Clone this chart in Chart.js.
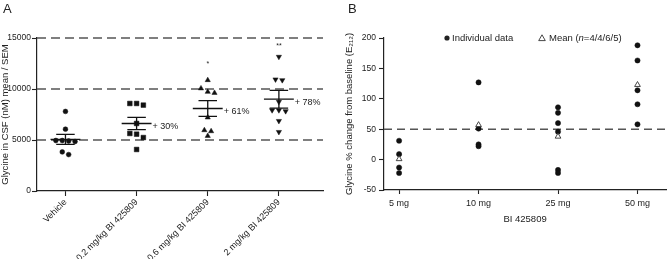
<!DOCTYPE html>
<html>
<head>
<meta charset="utf-8">
<script src="https://cdn.jsdelivr.net/npm/chart.js@4.4.0/dist/chart.umd.min.js"></script>
<style>
  body { margin: 0; background: #fff; }
  #wrap { position: relative; width: 671px; height: 259px; }
  #chartA { position: absolute; left: 0; top: 0; }
  #chartB { position: absolute; left: 335px; top: 0; }
</style>
</head>
<body>
<div id="wrap">
  <canvas id="chartA" width="335" height="259"></canvas>
  <canvas id="chartB" width="336" height="259"></canvas>
</div>
<script>
// panel A - glycine in CSF
const groupsA = ['Vehicle', '0.2 mg/kg BI 425809', '0.6 mg/kg BI 425809', '2 mg/kg BI 425809']
const vehicle = [7800, 6060, 4950, 4900, 4850, 4950, 3830, 3570]
const dose02 = [8580, 8420, 8580, 6620, 5640, 5570, 5240, 4070]
const dose06 = [10870, 10060, 9620, 9720, 7210, 5960, 5400, 5860]
const dose2 = [13160, 10870, 10940, 8740, 7920, 7830, 7920, 6870, 5790]
const meansA = [5070, 6620, 8090, 9000]
const semA = [490, 600, 780, 870]
const pctLabels = ['', '+ 30%', '+ 61%', '+ 78%']
const sigMarks = ['', '', '*', '**']
const sigLevels = [null, null, 12600, 14380]
const refLinesA = [5000, 10000, 15000]
const yTicksA = [0, 5000, 10000, 15000]

// panel B - % change from baseline
const dosesB = ['5 mg', '10 mg', '25 mg', '50 mg']
const indiv5 = [31, 9, -13, -22]
const indiv10 = [127, 51, 25, 22]
const indiv25 = [86, 77, 60, 46, -17, -22]
const indiv50 = [188, 163, 114, 91, 58]
const meansB = [1, 57, 38, 123]
const refLineB = 50

const FONT = '"Liberation Sans", Arial, sans-serif'
const INK = '#222'

// spread points with near-equal values side by side (like a dot plot)
function swarm(values, idx, tol, step) {
    const order = values.map((v, i) => i).sort((a, b) => values[b] - values[a])
    const pts = []
    let cluster = []
    const flush = () => {
        cluster.forEach((i, j) => pts.push({ x: idx + (j - (cluster.length - 1) / 2) * step, y: values[i] }))
        cluster = []
    }
    order.forEach(i => {
        if (cluster.length && values[cluster[cluster.length - 1]] - values[i] > tol) flush()
        cluster.push(i)
    })
    flush()
    return pts
}

const refLine = (v, x0, x1, dash) => ({
    type: 'line',
    data: [{ x: x0, y: v }, { x: x1, y: v }],
    borderColor: '#555',
    borderWidth: 1.5,
    borderDash: dash,
    pointRadius: 0,
    clip: 4,
    order: 10,
})

const dots = (data, style, radius, rotation) => ({
    data: data,
    pointStyle: style,
    pointRadius: radius,
    rotation: rotation || 0,
    backgroundColor: '#111',
    borderColor: '#111',
    borderWidth: 0.5,
})

const overlayA = {
    id: 'overlayA',
    afterDatasetsDraw(chart) {
        const { ctx, scales: { x, y } } = chart
        ctx.save()
        ctx.strokeStyle = '#111'
        ctx.lineWidth = 1.3
        ctx.fillStyle = INK
        meansA.forEach((m, i) => {
            const xl = x.getPixelForValue(i - 0.21), xr = x.getPixelForValue(i + 0.21)
            const cl = x.getPixelForValue(i - 0.13), cr = x.getPixelForValue(i + 0.13)
            const xc = x.getPixelForValue(i)
            const ym = y.getPixelForValue(m)
            const yt = y.getPixelForValue(m + semA[i]), yb = y.getPixelForValue(m - semA[i])
            ctx.beginPath()
            ctx.moveTo(xl, ym); ctx.lineTo(xr, ym)
            ctx.moveTo(cl, yt); ctx.lineTo(cr, yt)
            ctx.moveTo(cl, yb); ctx.lineTo(cr, yb)
            ctx.moveTo(xc, yt); ctx.lineTo(xc, yb)
            ctx.stroke()
            if (pctLabels[i]) {
                ctx.font = '9px ' + FONT
                ctx.textAlign = 'left'
                ctx.textBaseline = 'middle'
                ctx.fillText(pctLabels[i], xr + 1, ym + 3)
            }
            if (sigMarks[i]) {
                ctx.font = '7px ' + FONT
                ctx.textAlign = 'center'
                ctx.textBaseline = 'middle'
                ctx.fillText(sigMarks[i], xc, y.getPixelForValue(sigLevels[i]) + 2)
            }
        })
        ctx.font = '13px ' + FONT
        ctx.textAlign = 'left'
        ctx.textBaseline = 'middle'
        ctx.fillText('A', 3, 9)
        ctx.restore()
    }
}

const overlayB = {
    id: 'overlayB',
    afterDatasetsDraw(chart) {
        const { ctx, chartArea } = chart
        const lx = chartArea.left, ty = chartArea.top
        ctx.save()
        ctx.fillStyle = INK
        ctx.font = '13px ' + FONT
        ctx.textBaseline = 'middle'
        ctx.fillText('B', 13, 9)

        ctx.font = '9.5px ' + FONT
        // filled dot
        ctx.beginPath()
        ctx.arc(lx + 63, ty, 2.6, 0, Math.PI * 2)
        ctx.fill()
        ctx.fillText('Individual data', lx + 68, ty + 0.5)
        // open triangle
        const tx = lx + 158
        ctx.strokeStyle = '#333'
        ctx.lineWidth = 0.9
        ctx.beginPath()
        ctx.moveTo(tx, ty - 3.2); ctx.lineTo(tx + 3.3, ty + 2.6); ctx.lineTo(tx - 3.3, ty + 2.6); ctx.closePath()
        ctx.stroke()
        let px = tx + 7
        const parts = [['Mean (', ''], ['n', 'italic '], ['=4/4/6/5)', '']]
        parts.forEach(([t, st]) => {
            ctx.font = st + '9.5px ' + FONT
            ctx.fillText(t, px, ty + 0.5)
            px += ctx.measureText(t).width
        })
        ctx.restore()
    }
}

const axisCommon = {
    grid: { drawOnChartArea: false, drawTicks: true, tickLength: 5, color: INK, tickWidth: 1.1 },
    border: { display: true, color: INK, width: 1.2 },
}

const xMinA = -0.4, xMaxA = 3.62
new Chart(document.getElementById('chartA'), {
    type: 'scatter',
    data: {
        datasets: [
            dots(swarm(vehicle, 0, 400, 0.09), 'circle', 2.4),
            dots(swarm(dose02, 1, 400, 0.095), 'rect', 3.3),
            dots(swarm(dose06, 2, 400, 0.095), 'triangle', 3),
            dots(swarm(dose2, 3, 400, 0.095), 'triangle', 3, 180),
            ...refLinesA.map(v => refLine(v, xMinA, xMaxA, [9, 5])),
        ]
    },
    options: {
        responsive: false,
        animation: false,
        layout: { padding: { left: 0, right: 12, top: 38, bottom: 0 } },
        plugins: { legend: { display: false }, tooltip: { enabled: false } },
        scales: {
            x: {
                type: 'linear',
                min: xMinA,
                max: xMaxA,
                afterBuildTicks: s => { s.ticks = groupsA.map((g, i) => ({ value: i })) },
                afterFit: s => { s.height = 68 },
                ticks: {
                    callback: v => groupsA[v],
                    autoSkip: false,
                    minRotation: 45,
                    maxRotation: 45,
                    padding: 1,
                    color: INK,
                    font: { family: FONT, size: 9 },
                },
                ...axisCommon,
            },
            y: {
                min: 0,
                max: 15000,
                afterBuildTicks: s => { s.ticks = yTicksA.map(v => ({ value: v })) },
                afterFit: s => { s.width = 37 },
                ticks: { callback: v => String(v), padding: 1, color: INK, font: { family: FONT, size: 8.5 } },
                title: {
                    display: true,
                    text: 'Glycine in CSF (nM) mean / SEM',
                    color: INK,
                    font: { family: FONT, size: 9.5 },
                    padding: { top: 0, bottom: 0 },
                },
                ...axisCommon,
            }
        }
    },
    plugins: [overlayA]
})

const xMinB = -0.19, xMaxB = 3.36
const indivB = [indiv5, indiv10, indiv25, indiv50]
new Chart(document.getElementById('chartB'), {
    type: 'scatter',
    data: {
        datasets: [
            {
                data: meansB.map((m, i) => ({ x: i, y: m })),
                pointStyle: 'triangle',
                pointRadius: 3.3,
                backgroundColor: '#fff',
                borderColor: '#333',
                borderWidth: 0.9,
            },
            dots(indivB.flatMap((vals, i) => vals.map(v => ({ x: i, y: v }))), 'circle', 2.6),
            refLine(refLineB, xMinB, xMaxB, [8, 5]),
        ]
    },
    options: {
        responsive: false,
        animation: false,
        layout: { padding: { left: 0, right: 1, top: 38, bottom: 0 } },
        plugins: { legend: { display: false }, tooltip: { enabled: false } },
        scales: {
            x: {
                type: 'linear',
                min: xMinB,
                max: xMaxB,
                afterBuildTicks: s => { s.ticks = dosesB.map((d, i) => ({ value: i })) },
                afterFit: s => { s.height = 69 },
                ticks: {
                    callback: v => dosesB[v],
                    autoSkip: false,
                    maxRotation: 0,
                    padding: 4,
                    color: INK,
                    font: { family: FONT, size: 9 },
                },
                title: {
                    display: true,
                    text: 'BI 425809',
                    color: INK,
                    font: { family: FONT, size: 9.5 },
                    padding: { top: 0, bottom: 34 },
                },
                ...axisCommon,
                grid: { ...axisCommon.grid, tickLength: 4 },
            },
            y: {
                min: -50,
                max: 200,
                ticks: { stepSize: 50, padding: 3, color: INK, font: { family: FONT, size: 8.5 } },
                afterFit: s => { s.width = 49 },
                title: {
                    display: true,
                    text: 'Glycine % change from baseline (E₂₁₂)',
                    color: INK,
                    font: { family: FONT, size: 9.5 },
                    padding: { top: 9, bottom: 0 },
                },
                ...axisCommon,
            }
        }
    },
    plugins: [overlayB]
})
</script>
</body>
</html>
